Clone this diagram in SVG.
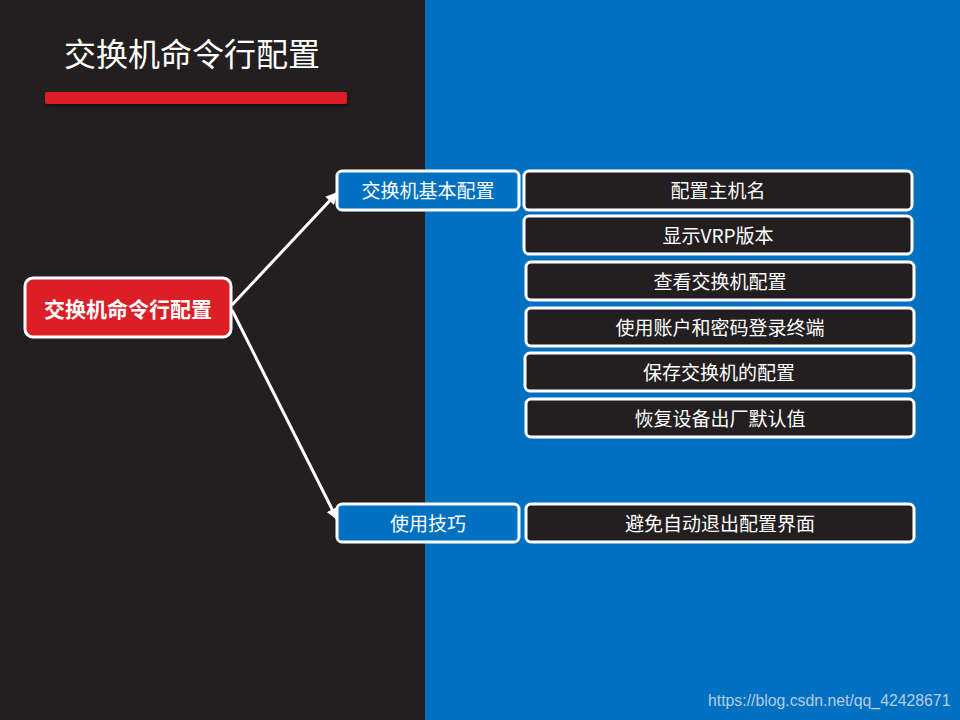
<svg xmlns="http://www.w3.org/2000/svg" width="960" height="720" viewBox="0 0 960 720">
<defs>
<marker id="ah" viewBox="0 0 10 10" refX="9" refY="5" markerWidth="4" markerHeight="4" orient="auto" markerUnits="strokeWidth">
<path d="M0,0 L10,5 L0,10 z" fill="#FFFFFF"/>
</marker>
<filter id="sh" x="-5%" y="-50%" width="110%" height="250%">
<feDropShadow dx="1" dy="2" stdDeviation="1.5" flood-color="#000" flood-opacity="0.5"/>
</filter>
</defs>
<style>
text{font-family:"Microsoft YaHei","Noto Sans CJK SC","Noto Sans",sans-serif;fill:#FFFFFF;}
.leaf rect{fill:#231F20;stroke:#FFFFFF;stroke-width:3;}
.sub rect{fill:#0070C0;stroke:#FFFFFF;stroke-width:3;}
.t{font-size:19px;text-anchor:middle;dominant-baseline:central;}
.conn line{stroke:#FFFFFF;stroke-width:3;}
</style>
<rect x="0" y="0" width="425" height="720" fill="#231F20"/>
<rect x="425" y="0" width="535" height="720" fill="#0070C0"/>
<g id="title">
<text x="64" y="66" font-size="32">交换机命令行配置</text>
<rect x="45" y="92" width="302" height="12" rx="2" fill="#DC1F26" filter="url(#sh)"/>
</g>
<g class="conn" id="connectors">
<line x1="232" y1="305" x2="337" y2="193" marker-end="url(#ah)"/>
<line x1="232" y1="310" x2="337" y2="519" marker-end="url(#ah)"/>
</g>
<g id="root">
<rect x="25" y="278" width="206" height="59" rx="8" fill="#DC1E26" stroke="#FFFFFF" stroke-width="3"/>
<text x="128" y="308" font-size="21" font-weight="bold" text-anchor="middle" dominant-baseline="central">交换机命令行配置</text>
</g>
<g id="sub1" class="sub">
<rect x="337" y="171" width="182" height="39" rx="5"/>
<text class="t" x="428" y="189">交换机基本配置</text>
</g>
<g id="sub2" class="sub">
<rect x="337" y="504" width="182" height="38" rx="5"/>
<text class="t" x="428" y="522">使用技巧</text>
</g>
<g id="leaf1" class="leaf">
<rect x="524" y="171" width="388" height="39" rx="5"/>
<text class="t" x="718" y="189">配置主机名</text>
</g>
<g id="leaf2" class="leaf">
<rect x="524" y="216" width="388" height="38" rx="5"/>
<text class="t" x="718" y="234">显示VRP版本</text>
</g>
<g id="leaf3" class="leaf">
<rect x="526" y="262" width="388" height="38" rx="5"/>
<text class="t" x="720" y="280">查看交换机配置</text>
</g>
<g id="leaf4" class="leaf">
<rect x="526" y="308" width="388" height="38" rx="5"/>
<text class="t" x="720" y="326">使用账户和密码登录终端</text>
</g>
<g id="leaf5" class="leaf">
<rect x="525" y="353" width="389" height="38" rx="5"/>
<text class="t" x="719" y="371">保存交换机的配置</text>
</g>
<g id="leaf6" class="leaf">
<rect x="526" y="399" width="388" height="38" rx="5"/>
<text class="t" x="720" y="417">恢复设备出厂默认值</text>
</g>
<g id="leaf7" class="leaf">
<rect x="526" y="504" width="388" height="38" rx="5"/>
<text class="t" x="720" y="522">避免自动退出配置界面</text>
</g>
<text x="708" y="706" font-size="15.8" style="font-family:'Liberation Sans',Arial,sans-serif;fill:#B8CCE4;">https://blog.csdn.net/qq_42428671</text>
</svg>
